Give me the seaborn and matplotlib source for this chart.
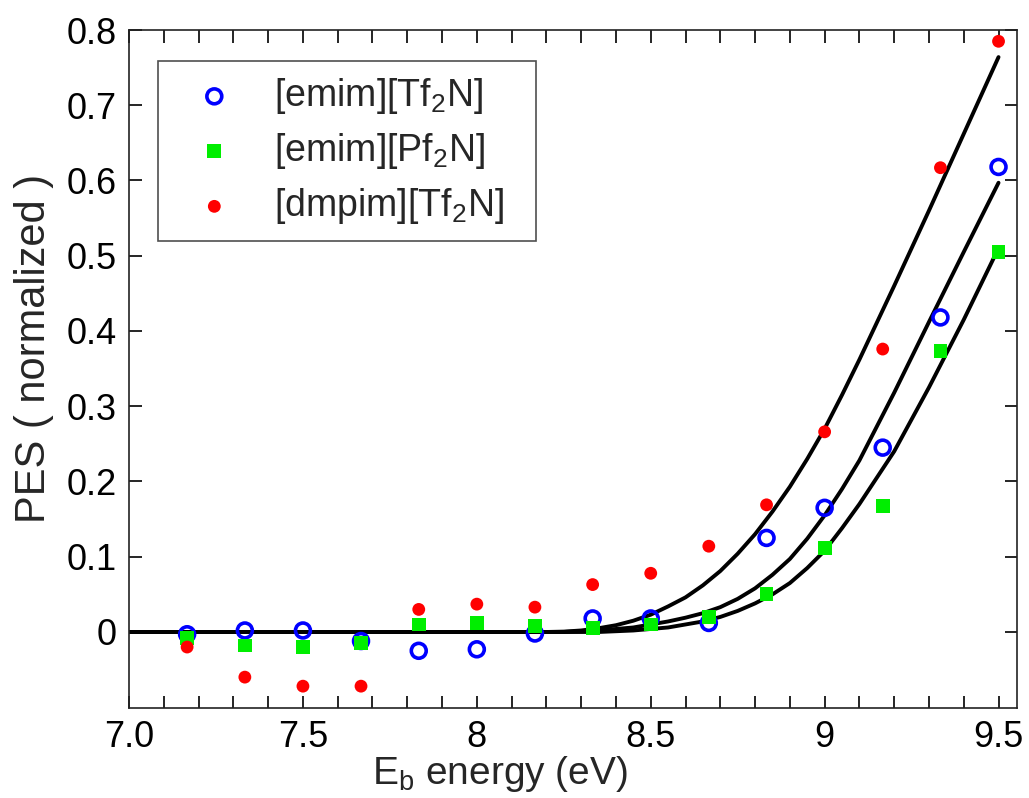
import seaborn as sns
import matplotlib.pyplot as plt
import pandas as pd

# measured points (binding energy, eV)
energy = [7.167, 7.333, 7.5, 7.667, 7.833, 8.0, 8.167, 8.333,
          8.5, 8.667, 8.833, 9.0, 9.167, 9.333, 9.5]
emim_tf2n = [-0.003, 0.002, 0.002, -0.012, -0.025, -0.023, -0.002, 0.018,
             0.018, 0.012, 0.125, 0.165, 0.245, 0.418, 0.618]
emim_pf2n = [-0.008, -0.018, -0.020, -0.015, 0.010, 0.012, 0.008, 0.005,
             0.010, 0.020, 0.050, 0.112, 0.167, 0.373, 0.505]
dmpim_tf2n = [-0.020, -0.060, -0.072, -0.072, 0.030, 0.037, 0.033, 0.063,
              0.078, 0.114, 0.169, 0.266, 0.376, 0.617, 0.785]

# threshold fit curves
fit_energy = [7.0, 8.0, 8.2, 8.25, 8.3, 8.35, 8.4, 8.45, 8.5, 8.55, 8.6, 8.65,
              8.7, 8.75, 8.8, 8.85, 8.9, 8.95, 9.0, 9.05, 9.1, 9.2, 9.3, 9.4, 9.5]
fit_dmpim = [0.0, 0.0, 0.0, 0.0005, 0.002, 0.005, 0.009, 0.015, 0.023, 0.034,
             0.046, 0.062, 0.081, 0.104, 0.130, 0.160, 0.193, 0.230, 0.270, 0.315,
             0.362, 0.460, 0.560, 0.662, 0.764]
fit_emim_tf2n = [0.0, 0.0, 0.0, 0.0, 0.001, 0.002, 0.004, 0.006, 0.010, 0.014,
                 0.019, 0.025, 0.033, 0.044, 0.058, 0.076, 0.097, 0.124, 0.155, 0.190,
                 0.228, 0.318, 0.412, 0.505, 0.597]
fit_emim_pf2n = [0.0, 0.0, 0.0, 0.0, 0.0, 0.0, 0.001, 0.002, 0.004, 0.006,
                 0.010, 0.014, 0.020, 0.028, 0.038, 0.050, 0.065, 0.085, 0.108, 0.138,
                 0.170, 0.240, 0.325, 0.415, 0.510]

x_labels = ['7.0', '7.5', '8', '8.5', '9', '9.5']

sns.set_style("ticks")
plt.rcParams['font.family'] = ['Liberation Sans', 'DejaVu Sans']
plt.rcParams['mathtext.fontset'] = 'custom'
plt.rcParams['mathtext.rm'] = 'Liberation Sans'
plt.rcParams['mathtext.it'] = 'Liberation Sans:italic'
plt.rcParams['mathtext.default'] = 'rm'

fig = plt.figure(figsize=(10.29, 7.98), dpi=100)
ax = fig.add_axes([0.1254, 0.1128, 0.8629, 0.8496])

pts = pd.DataFrame({'E': energy, 'a': emim_tf2n, 'b': emim_pf2n, 'c': dmpim_tf2n})
fits = pd.DataFrame({'E': fit_energy, 'a': fit_emim_tf2n, 'b': fit_emim_pf2n, 'c': fit_dmpim})

for col in ['c', 'a', 'b']:
    sns.lineplot(data=fits, x='E', y=col, ax=ax, color='black', lw=2.8, zorder=2)

sns.scatterplot(data=pts, x='E', y='a', ax=ax, marker='o', s=115, color='blue',
                facecolor='none', edgecolor='blue', linewidth=2.6, zorder=3,
                label='[emim][Tf$_2$N]')
sns.scatterplot(data=pts, x='E', y='b', ax=ax, marker='s', s=100, color='#00ee00',
                edgecolor='none', linewidth=0, zorder=3, label='[emim][Pf$_2$N]')
sns.scatterplot(data=pts, x='E', y='c', ax=ax, marker='o', s=85, color='red',
                edgecolor='none', linewidth=0, zorder=3, label='[dmpim][Tf$_2$N]')

ax.set_xlim(7.0, 9.553)
ax.set_ylim(-0.101, 0.8)
ax.set_xticks([7.0, 7.5, 8.0, 8.5, 9.0, 9.5])
ax.set_xticklabels(x_labels)
ax.set_xticks([7.0 + 0.1 * i for i in range(26)], minor=True)
ax.set_yticks([0.1 * i for i in range(9)])
ax.set_yticklabels(['0'] + ['%.1f' % (0.1 * i) for i in range(1, 9)])
ax.tick_params(which='both', direction='in', top=True, right=True,
               length=9, width=1.2, labelsize=26, colors='black')
ax.tick_params(axis='x', pad=9)
ax.tick_params(axis='y', pad=9)
for s in ax.spines.values():
    s.set_linewidth(1.2)
    s.set_color('#222222')

ax.set_xlabel('E$_\\mathrm{b}$ energy (eV)', fontsize=28)
ax.xaxis.set_label_coords(0.418, -0.068)
ax.set_ylabel('PES ( normalized )', fontsize=30)
ax.yaxis.set_label_coords(-0.085, 0.53)

leg = ax.legend(loc='upper left', bbox_to_anchor=(0.0327, 0.754, 0.4257, 0.2),
                mode='expand', borderaxespad=0, fontsize=27, frameon=True,
                fancybox=False, edgecolor='#222222', handlelength=2.2,
                handletextpad=0.5, labelspacing=0.4, borderpad=0.4)
leg.get_frame().set_linewidth(1.2)

fig.savefig('out.png', dpi=100)
